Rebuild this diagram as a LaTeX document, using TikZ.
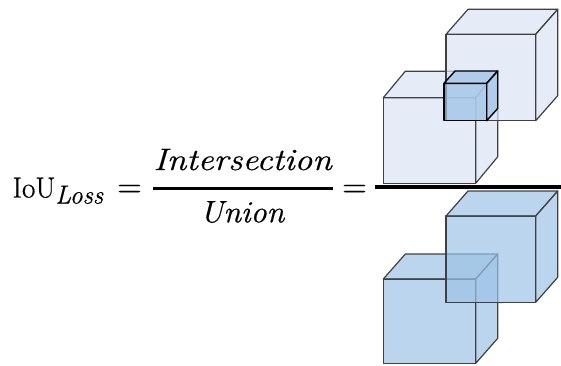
\documentclass[tikz,border=0pt]{standalone}
\usepackage{fontspec}
\setmainfont{Latin Modern Roman}[FakeBold=0.6]
\usepackage{graphicx}
\definecolor{lightcube}{HTML}{DAE3F3}
\definecolor{bluecube}{HTML}{9DC3E6}
\definecolor{edgecol}{HTML}{404040}
% #1 left, #2 top, #3 right, #4 bottom (front face), #5 dx, #6 dy (depth), #7 style
\newcommand\mycube[7]{%
  \filldraw[#7] (#1,#2) rectangle (#3,#4);
  \filldraw[#7] (#1,#2) -- ++(#5,#6) -- ++({#3-#1},0) -- (#3,#2) -- cycle;
  \filldraw[#7] (#3,#2) -- ++(#5,#6) -- ++(0,{#4-#2}) -- (#3,#4) -- cycle;
}
\tikzset{
  lightbox/.style={fill=lightcube, fill opacity=0.7, draw=edgecol, line width=1.2pt, line join=round},
  bluebox/.style={fill=bluecube, fill opacity=0.7, draw=edgecol, line width=1.2pt, line join=round},
  smallbox/.style={fill=bluecube, fill opacity=0.7, draw=black, line width=1.4pt, line join=round},
  eqtext/.style={inner sep=0pt, outer sep=0pt, anchor=base},
}
\begin{document}
\begin{tikzpicture}[x=1pt,y=-1pt]
\useasboundingbox (0,0) rectangle (561,365);
% text
\node[eqtext, anchor=base west] (iou) at (12.5,197.5)
  {\fontsize{29}{35}\selectfont IoU\raisebox{-6pt}{\fontsize{26}{30}\selectfont\resizebox{48pt}{\height}{\textit{Loss}}}};
\node[eqtext] (eq1) at (129.5,197) {\fontsize{34}{40}\selectfont =};
\node[eqtext] (num) at (243,170) {\fontsize{31}{36}\selectfont\resizebox{179pt}{\height}{\textit{Intersection}}};
\node[eqtext] (den) at (242.5,222.3) {\fontsize{31}{36}\selectfont\resizebox{85pt}{\height}{\textit{Union}}};
\node[eqtext] (eq2) at (354.5,197) {\fontsize{34}{40}\selectfont =};
\draw[line width=2.8pt] (153,188.3) -- (333,188.3);
\draw[line width=4pt] (375,187) -- (561,187);
% top group (intersection)
\mycube{383.3}{97.7}{475.7}{183.3}{22}{-26.5}{lightbox}
\mycube{446}{34.3}{535.7}{120.7}{22}{-25}{lightbox}
\mycube{444}{83.3}{486.7}{120.7}{11}{-12.3}{smallbox}
% bottom group (union)
\mycube{383.3}{279}{475.7}{363.3}{22}{-25}{bluebox}
\mycube{446}{216}{535.7}{302.3}{22}{-25}{bluebox}
\end{tikzpicture}
\end{document}
